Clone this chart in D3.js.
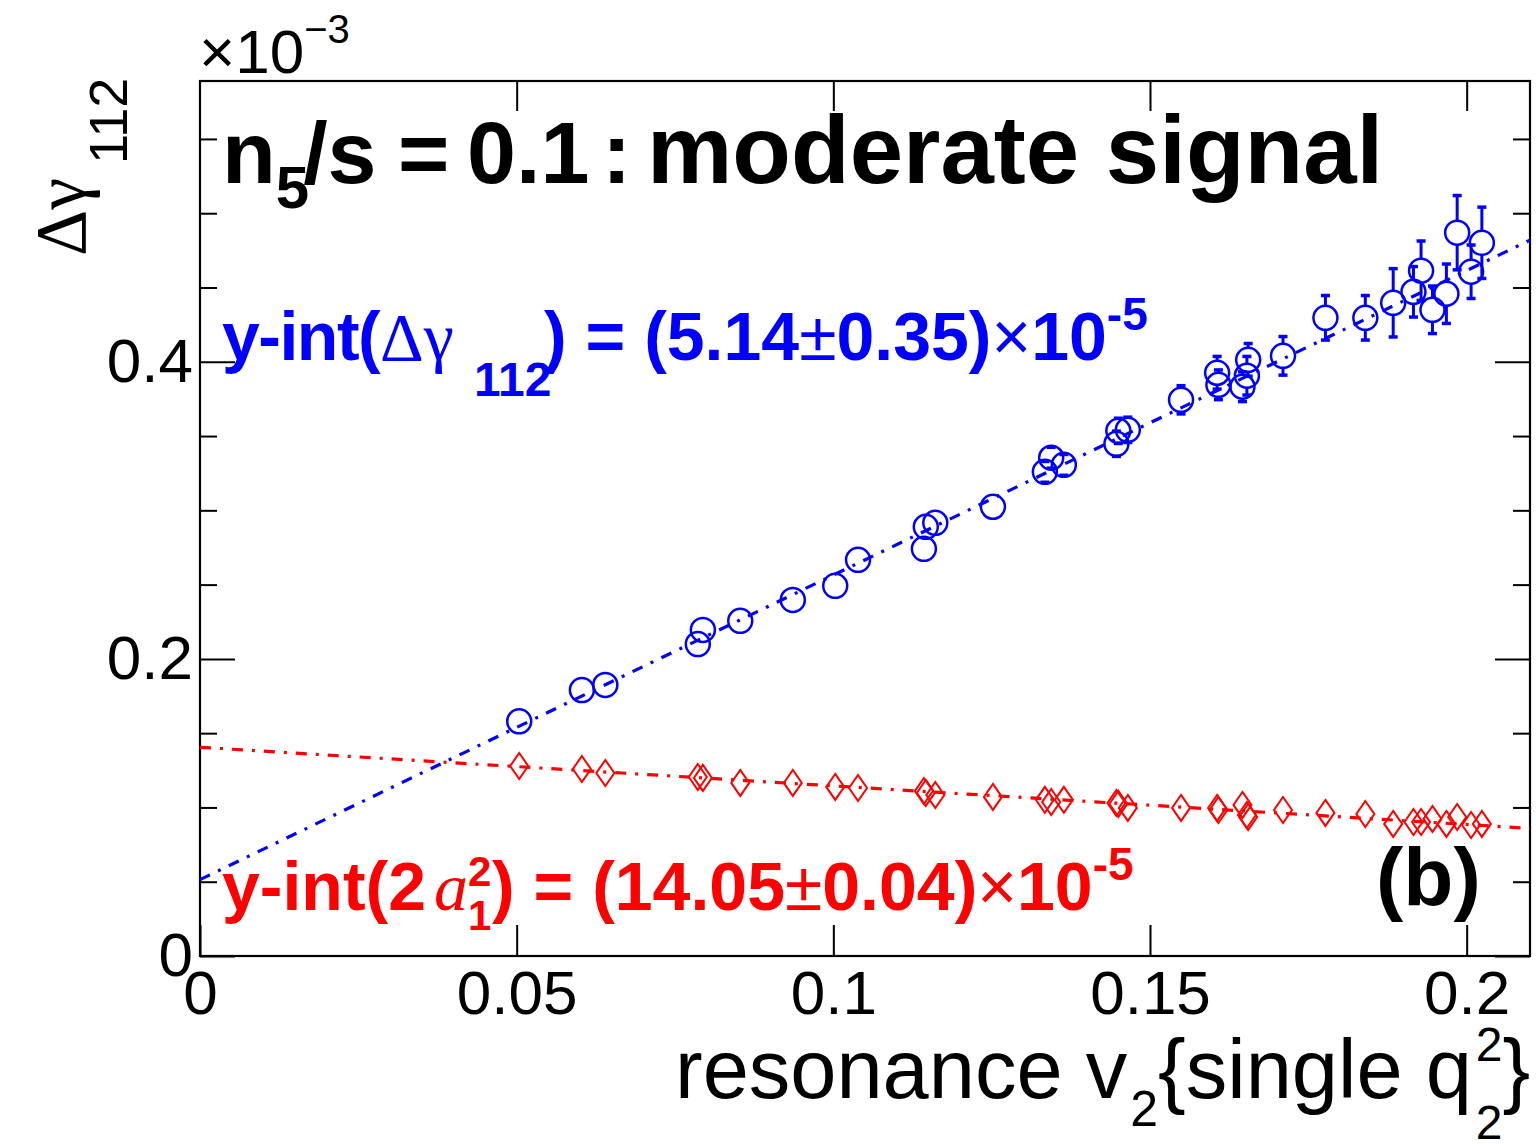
<!DOCTYPE html>
<html>
<head>
<meta charset="utf-8">
<script src="https://cdn.jsdelivr.net/npm/d3@7"></script>
<style>
  body { margin: 0; background: #fff; }
  svg { display: block; font-family: "Liberation Sans", Arial, sans-serif; }
</style>
</head>
<body>
<script>
// resonance v2 values (shared by both series)
const v2 = [0.0504, 0.0603, 0.0640, 0.0786, 0.0794, 0.0853, 0.0936, 0.1003, 0.1039, 0.1143,
  0.1146, 0.1161, 0.1252, 0.1334, 0.1344, 0.1364, 0.1447, 0.1450, 0.1465, 0.1549,
  0.1606, 0.1608, 0.1646, 0.1653, 0.1655, 0.1710, 0.1777, 0.1840, 0.1884, 0.1916,
  0.1928, 0.1946, 0.1968, 0.1985, 0.2007, 0.2024];

// Delta gamma_112 (x 1e-3) and its errors
const dGamma = [0.158, 0.179, 0.1825, 0.210, 0.2195, 0.2256, 0.2397, 0.2492, 0.2667, 0.2741,
  0.2889, 0.2916, 0.3024, 0.3259, 0.3354, 0.3306, 0.3448, 0.3535, 0.3542, 0.3744,
  0.3926, 0.3845, 0.3832, 0.3906, 0.4013, 0.4040, 0.4296, 0.4296, 0.4397, 0.4471,
  0.4613, 0.4350, 0.4458, 0.4869, 0.4606, 0.4801];
const dGammaErr = [0.004, 0.004, 0.004, 0.005, 0.005, 0.005, 0.005, 0.005, 0.005, 0.006,
  0.006, 0.006, 0.006, 0.007, 0.007, 0.007, 0.0085, 0.0085, 0.0085, 0.0095,
  0.011, 0.010, 0.010, 0.013, 0.011, 0.013, 0.015, 0.015, 0.023, 0.017,
  0.020, 0.016, 0.020, 0.025, 0.018, 0.024];

// 2 a1^2 (x 1e-3)
const a1sq = [0.1279, 0.1259, 0.1232, 0.1205, 0.1199, 0.1165, 0.1165, 0.1138, 0.1131, 0.1111,
  0.1098, 0.1084, 0.1071, 0.1051, 0.1037, 0.1051, 0.1030, 0.1024, 0.0997, 0.0997,
  0.0997, 0.0983, 0.1017, 0.0949, 0.0936, 0.0983, 0.0963, 0.0956, 0.0889, 0.0902,
  0.0902, 0.0923, 0.0889, 0.0936, 0.0882, 0.0889];

// linear fits: [dGamma, 2a1^2]
const fitIntercept = [0.0514, 0.1405];
const fitSlope = [2.05, -0.26];
const fitRange = [0, 0.21];

const xMajor = [0, 0.05, 0.1, 0.15, 0.2];
const yMajor = [0, 0.2, 0.4];
const yMinor = [0.05, 0.1, 0.15, 0.25, 0.3, 0.35, 0.45, 0.5, 0.55];

const W = 1536, H = 1146;
const padL = 200, padR = 1530, padT = 81, padB = 956;

const svg = d3.select("body").append("svg")
  .attr("width", W).attr("height", H);

const x = d3.scaleLinear().domain([0, 0.21]).range([padL, padR]);
const y = d3.scaleLinear().domain([0, 0.589]).range([padB, padT]);

// axes with inward ticks
function styleAxis(g, fs) {
  g.select(".domain").remove();
  g.attr("font-family", "Liberation Sans, Arial, sans-serif").attr("font-size", fs);
  g.selectAll(".tick line").attr("stroke", "#000").attr("stroke-width", 2);
  g.selectAll(".tick text").attr("fill", "#000");
}

svg.append("g").attr("transform", `translate(0,${padB})`)
  .call(d3.axisBottom(x).tickValues(xMajor).tickSize(-31).tickPadding(14)
    .tickFormat(d => d === 0 ? "0" : d3.format("")(d)))
  .call(g => styleAxis(g, 62));

svg.append("g").attr("transform", `translate(0,${padT})`)
  .call(d3.axisTop(x).tickValues(xMajor.slice(1)).tickSize(-30).tickFormat(""))
  .call(g => styleAxis(g, 10));

svg.append("g").attr("transform", `translate(${padL},0)`)
  .call(d3.axisLeft(y).tickValues(yMajor).tickSize(-35).tickPadding(7)
    .tickFormat(d => d === 0 ? "0" : d3.format(".1f")(d)))
  .call(g => styleAxis(g, 62));

svg.append("g").attr("transform", `translate(${padL},0)`)
  .call(d3.axisLeft(y).tickValues(yMinor).tickSize(-17).tickFormat(""))
  .call(g => styleAxis(g, 10));

svg.append("g").attr("transform", `translate(${padR},0)`)
  .call(d3.axisRight(y).tickValues(yMajor).tickSize(-35).tickFormat(""))
  .call(g => styleAxis(g, 10));

svg.append("g").attr("transform", `translate(${padR},0)`)
  .call(d3.axisRight(y).tickValues(yMinor).tickSize(-17).tickFormat(""))
  .call(g => styleAxis(g, 10));

// frame
svg.append("rect")
  .attr("x", padL).attr("y", padT)
  .attr("width", padR - padL).attr("height", padB - padT)
  .attr("fill", "none").attr("stroke", "#000").attr("stroke-width", 2.2);

// red diamonds
const red = "#ff0000", blue = "#0000ff";
svg.append("g").selectAll("path")
  .data(v2.map((v, i) => [v, a1sq[i]]))
  .join("path")
  .attr("d", d => {
    const cx = x(d[0]), cy = y(d[1]);
    return `M${cx},${cy - 13}L${cx + 9},${cy}L${cx},${cy + 13}L${cx - 9},${cy}Z`;
  })
  .attr("fill", "none").attr("stroke", red).attr("stroke-width", 2);

// blue error bars
const r = 12;
const errG = svg.append("g").attr("stroke", blue);
v2.forEach((v, i) => {
  const cx = x(v), cy = y(dGamma[i]);
  const e = y(0) - y(dGammaErr[i]);
  if (e > r) {
    errG.append("line").attr("x1", cx).attr("x2", cx).attr("y1", cy - r).attr("y2", cy - e).attr("stroke-width", 3);
    errG.append("line").attr("x1", cx).attr("x2", cx).attr("y1", cy + r).attr("y2", cy + e).attr("stroke-width", 3);
  }
  if (e > r - 2) {
    [cy - e, cy + e].forEach(yy => errG.append("line")
      .attr("x1", cx - 4.5).attr("x2", cx + 4.5).attr("y1", yy).attr("y2", yy).attr("stroke-width", 3.5));
  }
});

// blue circles
svg.append("g").selectAll("circle")
  .data(v2.map((v, i) => [v, dGamma[i]]))
  .join("circle")
  .attr("cx", d => x(d[0])).attr("cy", d => y(d[1])).attr("r", r)
  .attr("fill", "none").attr("stroke", blue).attr("stroke-width", 2.5);

// fit lines
const fitColors = [blue, red];
fitIntercept.forEach((b, k) => {
  const line = d3.line().x(d => x(d)).y(d => y(b + fitSlope[k] * d));
  svg.append("path").datum(fitRange)
    .attr("d", line)
    .attr("fill", "none").attr("stroke", fitColors[k]).attr("stroke-width", 3.2)
    .attr("stroke-dasharray", "11 9 3 9");
});

// exponent label
const ex = svg.append("text").attr("x", 199).attr("y", 73).attr("font-size", 62).attr("fill", "#000");
ex.append("tspan").text("×10");
ex.append("tspan").attr("font-size", 40).attr("dy", -30).text("−3");

// y title
const yt = svg.append("text").attr("transform", "translate(85,256) rotate(-90)")
  .attr("font-size", 72).attr("fill", "#000");
yt.append("tspan").attr("font-family", "Liberation Serif, serif").text("Δγ");
yt.append("tspan").attr("font-size", 54).attr("dx", 14).attr("dy", 42).text("112");

// x title
const xt = svg.append("text").attr("x", 675).attr("y", 1098).attr("font-size", 83).attr("fill", "#000");
xt.append("tspan").text("resonance v");
xt.append("tspan").attr("font-size", 50).attr("dx", 3).attr("dy", 28).text("2");
xt.append("tspan").attr("dy", -28).text("{single q");
xt.append("tspan").attr("font-size", 48).attr("dx", 4).attr("dy", -37).text("2");
xt.append("tspan").attr("font-size", 48).attr("dx", -26.7).attr("dy", 78).text("2");
xt.append("tspan").attr("dy", -41).text("}");

// title
const tt = svg.append("text").attr("y", 183)
  .attr("font-size", 88).attr("font-weight", "bold").attr("fill", "#000");
tt.append("tspan").attr("x", 222).text("n");
tt.append("tspan").attr("font-size", 60).attr("dy", 25).text("5");
tt.append("tspan").attr("dy", -25).attr("dx", -6).text("/s");
tt.append("tspan").attr("x", 398).text("=");
tt.append("tspan").attr("x", 467).text("0.1");
tt.append("tspan").attr("x", 602).text(":");
tt.append("tspan").attr("x", 647).attr("font-size", 96).text("moderate signal");

// blue fit text
const bt = svg.append("text").attr("y", 360)
  .attr("font-size", 68).attr("font-weight", "bold").attr("fill", blue);
bt.append("tspan").attr("x", 222).attr("letter-spacing", -1.5).text("y-int(");
bt.append("tspan").attr("x", 380).attr("font-family", "Liberation Serif, serif").attr("font-weight", "normal").text("Δγ");
bt.append("tspan").attr("x", 474).attr("font-size", 48).attr("dy", 36).text("112");
bt.append("tspan").attr("x", 544).attr("dy", -36).text(") = (5.14");
bt.append("tspan").attr("font-weight", "normal").text("±");
bt.append("tspan").text("0.35)");
bt.append("tspan").attr("font-weight", "normal").text("×");
bt.append("tspan").text("10");
bt.append("tspan").attr("font-size", 46).attr("dy", -30).text("-5");

// red fit text
const rt = svg.append("text").attr("y", 910)
  .attr("font-size", 68).attr("font-weight", "bold").attr("fill", red);
rt.append("tspan").attr("x", 222).text("y-int(2");
rt.append("tspan").attr("x", 434).attr("font-family", "Liberation Serif, serif").attr("font-style", "italic")
  .attr("font-weight", "normal").text("a");
rt.append("tspan").attr("x", 468).attr("font-size", 42).attr("dy", -24).text("2");
rt.append("tspan").attr("x", 468).attr("font-size", 42).attr("dy", 44).text("1");
rt.append("tspan").attr("x", 492).attr("dy", -20).text(") = (14.05");
rt.append("tspan").attr("font-weight", "normal").text("±");
rt.append("tspan").text("0.04)");
rt.append("tspan").attr("font-weight", "normal").text("×");
rt.append("tspan").text("10");
rt.append("tspan").attr("font-size", 46).attr("dy", -30).text("-5");

// panel label
svg.append("text").attr("x", 1376).attr("y", 905)
  .attr("font-size", 82).attr("font-weight", "bold").attr("fill", "#000").text("(b)");
</script>
</body>
</html>
